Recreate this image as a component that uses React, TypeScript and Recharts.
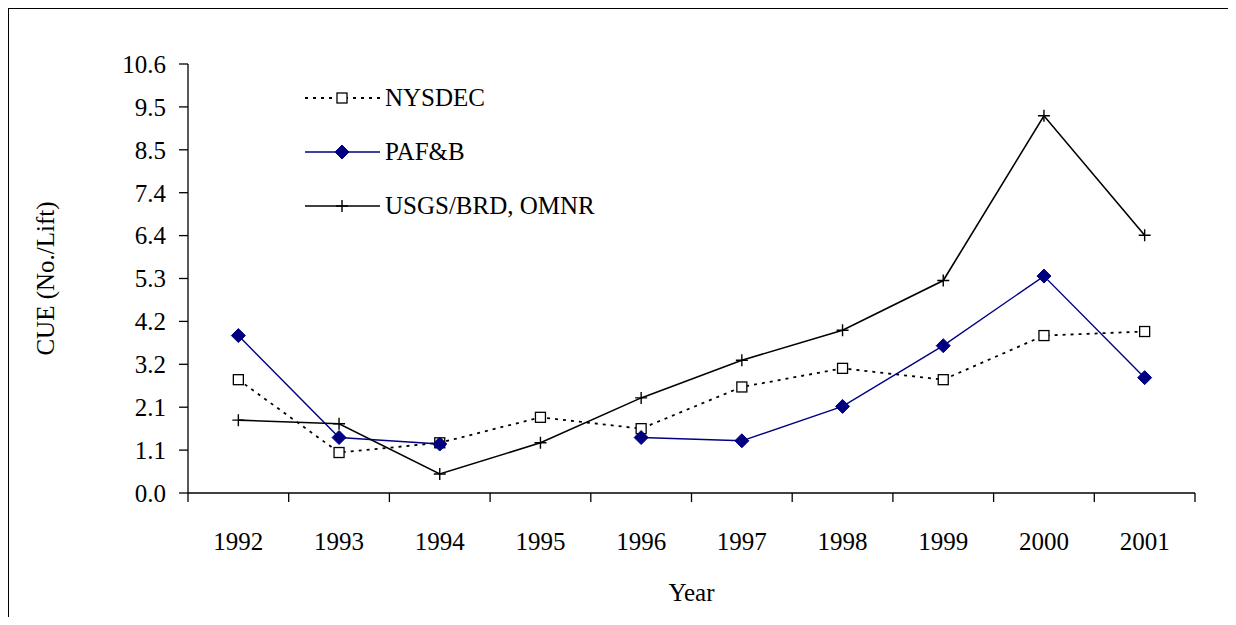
import React from 'react';
import { LineChart, Line, XAxis, YAxis, Legend } from 'recharts';

const years = [1992, 1993, 1994, 1995, 1996, 1997, 1998, 1999, 2000, 2001];
const nysdec = [2.8, 1.0, 1.24, 1.87, 1.59, 2.62, 3.08, 2.8, 3.89, 3.99];
const pafb = [3.89, 1.37, 1.21, null, 1.37, 1.29, 2.14, 3.64, 5.36, 2.85];
const usgs = [1.8, 1.71, 0.47, 1.24, 2.35, 3.28, 4.02, 5.25, 9.32, 6.37];
const yTicks = [0, 1.06, 2.12, 3.18, 4.24, 5.3, 6.36, 7.42, 8.48, 9.54, 10.6];
const xEdges = [1991.5, 1992.5, 1993.5, 1994.5, 1995.5, 1996.5, 1997.5, 1998.5, 1999.5, 2000.5, 2001.5];

const data = years.map((year, i) => ({ year, nysdec: nysdec[i], pafb: pafb[i], usgs: usgs[i] }));

const W = 1222;
const H = 609;
const MARGIN = { top: 56, right: 35, left: 0, bottom: 0 };
const Y_AXIS_W = 180;
const X_AXIS_H = 124;
const HALF_STEP = (W - MARGIN.left - MARGIN.right - Y_AXIS_W) / years.length / 2;

const FONT = 'Liberation Serif, Times New Roman, DejaVu Serif, serif';
const NAVY = '#000080';

const Square = ({ cx, cy }: any) =>
  cx == null || cy == null ? null : (
    <rect x={cx - 5} y={cy - 5} width={10} height={10} fill="#fff" stroke="#000" strokeWidth={1.3} />
  );

const Diamond = ({ cx, cy }: any) =>
  cx == null || cy == null ? null : (
    <path d={`M${cx},${cy - 7}L${cx + 7},${cy}L${cx},${cy + 7}L${cx - 7},${cy}Z`} fill={NAVY} stroke={NAVY} />
  );

const Plus = ({ cx, cy }: any) =>
  cx == null || cy == null ? null : (
    <path d={`M${cx - 6},${cy}H${cx + 6}M${cx},${cy - 6}V${cy + 6}`} stroke="#000" strokeWidth={1.4} fill="none" />
  );

const series = [
  { key: 'nysdec', name: 'NYSDEC', color: '#000', width: 1.8, dash: '3 5', Dot: Square },
  { key: 'pafb', name: 'PAF&B', color: NAVY, width: 1.4, dash: undefined, Dot: Diamond },
  { key: 'usgs', name: 'USGS/BRD, OMNR', color: '#000', width: 1.6, dash: undefined, Dot: Plus },
];

const YearTick = ({ x, y, payload }: any) => {
  const year = payload.value + 0.5;
  if (year > years[years.length - 1]) return null;
  return (
    <text x={x + HALF_STEP} y={y} dy="0.355em" textAnchor="middle" fill="#000" fontSize={25} style={{ fontFamily: FONT }}>
      {year}
    </text>
  );
};

const LegendBox = () => (
  <div style={{ fontFamily: FONT, fontSize: 25, color: '#000' }}>
    {series.map((s) => (
      <div key={s.key} style={{ display: 'flex', alignItems: 'center', height: 54 }}>
        <svg width={80} height={20} style={{ display: 'block' }}>
          <line x1={0} y1={10} x2={75} y2={10} stroke={s.color} strokeWidth={s.width} strokeDasharray={s.dash} />
          <s.Dot cx={37} cy={10} />
        </svg>
        <span style={{ whiteSpace: 'nowrap' }}>{s.name}</span>
      </div>
    ))}
  </div>
);

export default function App() {
  return (
    <div style={{ position: 'relative', width: W, height: H, fontFamily: FONT }}>
      <LineChart width={W} height={H} data={data} margin={MARGIN} style={{ fontFamily: FONT }}>
        <XAxis
          dataKey="year"
          type="number"
          domain={[xEdges[0], xEdges[xEdges.length - 1]]}
          ticks={xEdges}
          interval={0}
          height={X_AXIS_H}
          stroke="#000"
          strokeWidth={1.3}
          tickSize={9}
          tickMargin={39}
          tick={<YearTick />}
          label={(props: any) => {
            const vb = props.viewBox;
            return (
              <text x={vb.x + vb.width / 2} y={vb.y + 99} dy="0.355em" textAnchor="middle" fontSize={25} style={{ fontFamily: FONT }} fill="#000">
                Year
              </text>
            );
          }}
        />
        <YAxis
          domain={[0, 10.6]}
          ticks={yTicks}
          interval={0}
          width={Y_AXIS_W}
          stroke="#000"
          strokeWidth={1.3}
          tickSize={9}
          tickMargin={13}
          tickFormatter={(v: number) => v.toFixed(1)}
          tick={{ fill: '#000', fontSize: 25, style: { fontFamily: FONT } }}
          label={(props: any) => {
            const vb = props.viewBox;
            const cx = vb.x + 37;
            const cy = vb.y + vb.height / 2;
            return (
              <text x={cx} y={cy} dy="0.355em" textAnchor="middle" transform={`rotate(-90 ${cx} ${cy})`} fontSize={25} style={{ fontFamily: FONT }} fill="#000">
                CUE (No./Lift)
              </text>
            );
          }}
        />
        <Legend
          layout="vertical"
          align="center"
          verticalAlign="middle"
          content={<LegendBox />}
          wrapperStyle={{ left: 297, top: 63, width: 'auto' }}
        />
        {series.map((s) => (
          <Line
            key={s.key}
            type="linear"
            dataKey={s.key}
            name={s.name}
            stroke={s.color}
            strokeWidth={s.width}
            strokeDasharray={s.dash}
            dot={<s.Dot />}
            activeDot={false}
            connectNulls={false}
            isAnimationActive={false}
          />
        ))}
      </LineChart>
      <div
        style={{
          position: 'absolute',
          left: 0,
          top: 0,
          right: 0,
          bottom: 0,
          borderTop: '1.5px solid #000',
          borderLeft: '1.5px solid #000',
          borderRight: '1.5px solid #000',
          pointerEvents: 'none',
        }}
      />
    </div>
  );
}
